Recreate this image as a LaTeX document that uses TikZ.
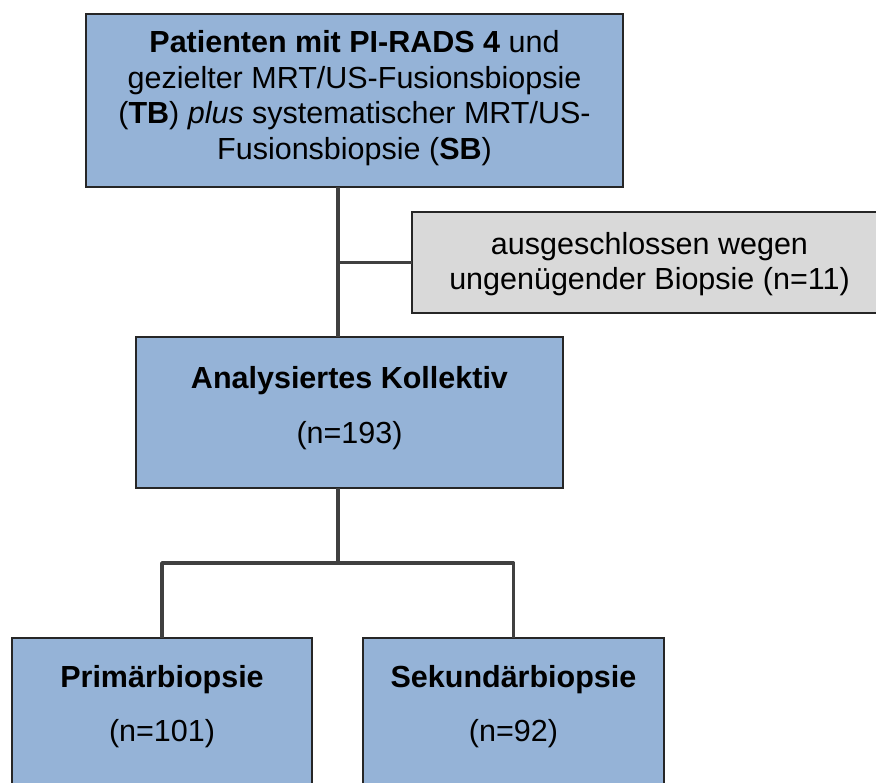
\documentclass[tikz,border=0pt]{standalone}
\usepackage{fontspec}
\setmainfont{Liberation Sans}
\definecolor{boxblue}{HTML}{95B3D7}
\definecolor{boxgrey}{HTML}{D9D9D9}
\definecolor{linegrey}{HTML}{404040}
\definecolor{edgegrey}{HTML}{262626}
\begin{document}
\begin{tikzpicture}[x=1pt,y=-1pt,
  box/.style={draw=edgegrey,line width=1.6pt,rectangle,inner sep=0pt,outer sep=0pt,anchor=north west},
  bluebox/.style={box,fill=boxblue},
  greybox/.style={box,fill=boxgrey},
  conn/.style={draw=linegrey,line width=3.4pt},
  txt/.style={anchor=base,inner sep=0pt,font=\fontsize{30.5}{35.5}\selectfont}]
\useasboundingbox (0,0) rectangle (876,783);
\clip (0,0) rectangle (876,783);
% boxes
\node[bluebox,minimum width=537pt,minimum height=173pt] (top) at (86,14) {};
\node[greybox,minimum width=488pt,minimum height=101pt] (grey) at (412,212) {};
\node[bluebox,minimum width=427pt,minimum height=151pt] (mid) at (136,337) {};
\node[bluebox,minimum width=300pt,minimum height=162pt] (left) at (12,638) {};
\node[bluebox,minimum width=301pt,minimum height=162pt] (right) at (363,638) {};
% connectors
\coordinate (jA) at (338,263);
\coordinate (jB) at (338,563);
\draw[conn] (jA |- top.south) -- (jA |- mid.north);
\draw[conn] (jA |- grey.west) -- (grey.west);
\draw[conn] (jB |- mid.south) -- (jB);
\draw[conn,line join=round] (left.north) |- (jB) -| (right.north);
% texts
\node[txt] (t1) at (354.5,53) {\textbf{Patienten mit PI-RADS 4} und};
\node[txt] (t2) at (354.5,88.5) {gezielter MRT/US-Fusionsbiopsie};
\node[txt] (t3) at (354.5,124) {(\textbf{TB}) \textit{plus} systematischer MRT/US-};
\node[txt] (t4) at (354.5,159.5) {Fusionsbiopsie (\textbf{SB})};
\node[txt] (g1) at (649.5,255) {ausgeschlossen wegen};
\node[txt] (g2) at (649.5,290) {ungenügender Biopsie (n=11)};
\node[txt] (m1) at (349.5,389) {\textbf{Analysiertes Kollektiv}};
\node[txt] (m2) at (349.5,444) {(n=193)};
\node[txt] (l1) at (162,687) {\textbf{Primärbiopsie}};
\node[txt] (l2) at (162,741) {(n=101)};
\node[txt] (r1) at (513.5,687) {\textbf{Sekundärbiopsie}};
\node[txt] (r2) at (513.5,741) {(n=92)};
\end{tikzpicture}
\end{document}
